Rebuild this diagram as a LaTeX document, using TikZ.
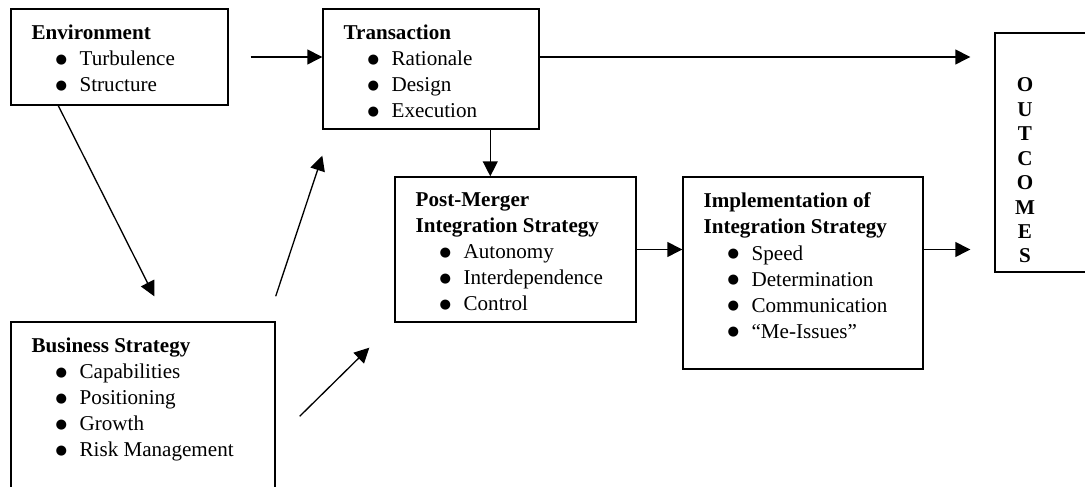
\documentclass[tikz,border=0pt]{standalone}
\usepackage{fontspec}
\setmainfont{Liberation Serif}
\newfontfamily\bulfont{DejaVu Sans}
\usetikzlibrary{arrows.meta, calc}
\newcommand{\bul}{\hspace*{13.7pt}\makebox[13.6pt][l]{\raisebox{1.2pt}{\bulfont\fontsize{7.5}{7.5}\selectfont ●}}}
\begin{document}
\begin{tikzpicture}[box/.style = {draw, rectangle, line width=0.8pt, inner sep=0}, txt/.style = {anchor=north west, align=left, inner sep=0, font=\fontsize{12}{14.8}\selectfont}, arr/.style = {-{Triangle[length=8.5pt, width=8.5pt]}, line width=0.75pt}]
  \useasboundingbox (0, 0) rectangle (21.7, -9.74);
  \node[box, minimum width=4.34cm, minimum height=1.92cm] at (2.39, -1.14) (env) {};
  \node[box, minimum width=4.32cm, minimum height=2.4cm] at (8.62, -1.38) (trans) {};
  \node[box, minimum width=4.82cm, minimum height=2.9cm] at (10.31, -4.99) (pm) {};
  \node[box, minimum width=4.8cm, minimum height=3.84cm] at (16.06, -5.46) (impl) {};
  \node[box, minimum width=1.9cm, minimum height=4.78cm] at (20.85, -3.05) (out) {};
  \node[box, minimum width=5.28cm, minimum height=3.96cm] at (2.86, -8.42) (biz) {};
  \node[txt] at ([shift={(0.42, -0.33)}]env.north west) (env-text) {\textbf{Environment}\\ \bul Turbulence\\ \bul Structure};
  \node[txt] at ([shift={(0.42, -0.33)}]trans.north west) (trans-text) {\textbf{Transaction}\\ \bul Rationale\\ \bul Design\\ \bul Execution};
  \node[txt] at ([shift={(0.42, -0.33)}]pm.north west) (pm-text) {\textbf{Post-Merger}\\ \textbf{Integration Strategy}\\ \bul Autonomy\\ \bul Interdependence\\ \bul Control};
  \node[txt] at ([shift={(0.42, -0.33)}]impl.north west) (impl-text) {\textbf{Implementation of}\\ \textbf{Integration Strategy}\\ \bul Speed\\ \bul Determination\\ \bul Communication\\ \bul ``Me-Issues''};
  \node[txt] at ([shift={(0.42, -0.33)}]biz.north west) (biz-text) {\textbf{Business Strategy}\\ \bul Capabilities\\ \bul Positioning\\ \bul Growth\\ \bul Risk Management};
  \node[align=center, inner sep=0, font=\fontsize{12}{13.9}\selectfont\bfseries] at (20.5, -3.41) (out-text) {O\\U\\T\\C\\O\\M\\E\\S};
  \coordinate (pm-in) at ([xshift=1.92cm]pm.north west);
  \coordinate (env-out) at ([xshift=0.96cm]env.south west);
  \coordinate (biz-in) at ([shift={(2.88, 0.5)}]biz.north west);
  \coordinate (biz-out1) at ([yshift=0.5cm]biz.north east);
  \coordinate (trans-in) at ([yshift=-0.52cm]trans.south west);
  \coordinate (biz-out2) at ([shift={(0.48, -1.9)}]biz.north east);
  \coordinate (pm-in2) at ([shift={(-0.5, -0.5)}]pm.south west);
  \draw[arr, shorten <=0.44cm] (env.east) -- (env -| trans.west);
  \draw[arr, shorten >=0.48cm] (trans.east |- env) -- (out.west |- env);
  \draw[arr] (trans.south -| pm-in) -- (pm-in);
  \draw[arr] (pm.east) -- (pm.east -| impl.west);
  \draw[arr, shorten >=0.48cm] (impl.east |- pm) -- (out.west |- pm);
  \draw[arr] (env-out) -- (biz-in);
  \draw[arr] (biz-out1) -- (trans-in);
  \draw[arr] (biz-out2) -- (pm-in2);
\end{tikzpicture}
\end{document}
